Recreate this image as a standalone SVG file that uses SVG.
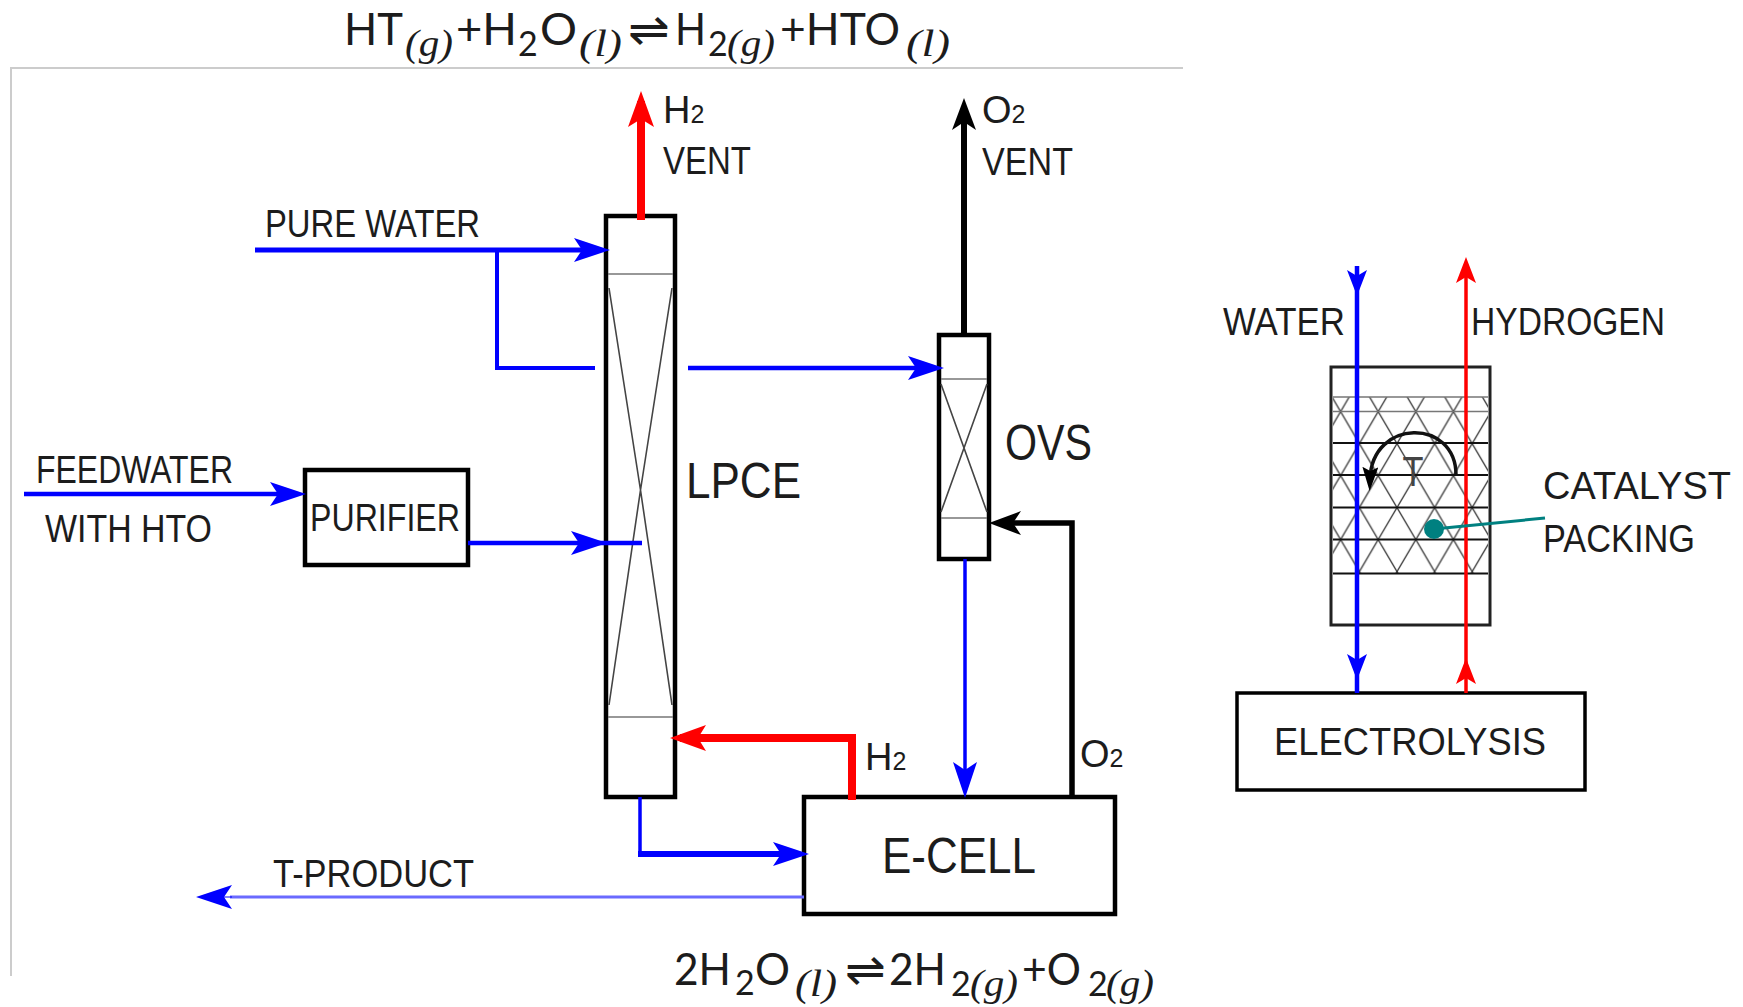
<svg xmlns="http://www.w3.org/2000/svg" width="1743" height="1007" viewBox="0 0 1743 1007">
<style>
.box{fill:none;stroke:#000;stroke-width:4.5}
.thin{fill:none;stroke:#777;stroke-width:1.5}
.x{fill:none;stroke:#444;stroke-width:1.6}
.rung{fill:none;stroke:#111;stroke-width:2}
.c{fill:none}
.b{stroke:#0000ff}.r{stroke:#ff0000}.k{stroke:#000}
text{font-family:"Liberation Sans Narrow","Liberation Sans",Arial,sans-serif;fill:#1c1c1c}
.lab{font-size:38px}
.big{font-size:50px}
.eq{font-family:Lato,"Open Sans",sans-serif;font-size:45px}
.eq .s{font-family:"Liberation Serif",serif;font-style:italic;font-size:37px}
.eq .n{font-family:Lato,"Open Sans",sans-serif;font-style:normal;font-size:34px}
.sub2{font-size:25px}
</style>
<defs>
<marker id="hb" markerUnits="userSpaceOnUse" markerWidth="36" markerHeight="24" refX="26" refY="12" orient="auto"><path d="M36,12 L0,0 L8,12 L0,24 Z" fill="#0000ff"/></marker>
<marker id="hbs" markerUnits="userSpaceOnUse" markerWidth="26" markerHeight="20" refX="16" refY="10" orient="auto"><path d="M26,10 L0,0 L6,10 L0,20 Z" fill="#0000ff"/></marker>
<marker id="hr" markerUnits="userSpaceOnUse" markerWidth="36" markerHeight="26" refX="26" refY="13" orient="auto"><path d="M36,13 L0,0 L8,13 L0,26 Z" fill="#ff0000"/></marker>
<marker id="hk" markerUnits="userSpaceOnUse" markerWidth="32" markerHeight="24" refX="22" refY="12" orient="auto"><path d="M32,12 L0,0 L8,12 L0,24 Z" fill="#000"/></marker>
<marker id="hrs" markerUnits="userSpaceOnUse" markerWidth="26" markerHeight="20" refX="16" refY="10" orient="auto"><path d="M26,10 L0,0 L6,10 L0,20 Z" fill="#ff0000"/></marker>
<marker id="hks" markerUnits="userSpaceOnUse" markerWidth="24" markerHeight="16" refX="12" refY="8" orient="auto"><path d="M24,8 L0,0 L4,8 L0,16 Z" fill="#000"/></marker>
<pattern id="lattice" patternUnits="userSpaceOnUse" x="1340.6" y="411.6" width="37.6" height="64">
<path d="M0,0 L37.6,64 M37.6,0 L0,64" stroke="#333" stroke-width="1.3" fill="none"/>
</pattern>
</defs>

<path id="frame" d="M11,976 V68 H1183" fill="none" stroke="#ccc" stroke-width="2"/>

<g id="eq-top">
<text class="eq" y="45"><tspan x="344" textLength="59" lengthAdjust="spacingAndGlyphs">HT</tspan><tspan class="s" x="405" dy="11" textLength="48" lengthAdjust="spacingAndGlyphs">(g)</tspan><tspan x="456" dy="-11" textLength="61" lengthAdjust="spacingAndGlyphs">+H</tspan><tspan class="n" x="518" dy="11">2</tspan><tspan x="540" dy="-11" textLength="37" lengthAdjust="spacingAndGlyphs">O</tspan><tspan class="s" x="579" dy="11" textLength="43" lengthAdjust="spacingAndGlyphs">(l)</tspan><tspan x="628" dy="-11" textLength="42" lengthAdjust="spacingAndGlyphs">⇌</tspan><tspan x="675" textLength="31" lengthAdjust="spacingAndGlyphs">H</tspan><tspan class="n" x="708" dy="11">2</tspan><tspan class="s" x="727" textLength="48" lengthAdjust="spacingAndGlyphs">(g)</tspan><tspan x="780" dy="-11" textLength="120" lengthAdjust="spacingAndGlyphs">+HTO</tspan><tspan class="s" x="906" dy="11" textLength="44" lengthAdjust="spacingAndGlyphs">(l)</tspan></text>
</g>
<g id="eq-bottom">
<text class="eq" y="985"><tspan x="674" textLength="57" lengthAdjust="spacingAndGlyphs">2H</tspan><tspan class="n" x="735" dy="10">2</tspan><tspan x="755" dy="-10" textLength="35" lengthAdjust="spacingAndGlyphs">O</tspan><tspan class="s" x="795" dy="11" textLength="42" lengthAdjust="spacingAndGlyphs">(l)</tspan><tspan x="845" dy="-11" textLength="41" lengthAdjust="spacingAndGlyphs">⇌</tspan><tspan x="889" textLength="57" lengthAdjust="spacingAndGlyphs">2H</tspan><tspan class="n" x="951" dy="11">2</tspan><tspan class="s" x="970" textLength="48" lengthAdjust="spacingAndGlyphs">(g)</tspan><tspan x="1022" dy="-11" textLength="59" lengthAdjust="spacingAndGlyphs">+O</tspan><tspan class="n" x="1088" dy="11">2</tspan><tspan class="s" x="1106" textLength="48" lengthAdjust="spacingAndGlyphs">(g)</tspan></text>
</g>

<g id="lpce">
<rect class="box" x="606" y="216" width="69" height="581"/>
<path class="thin" d="M608,274 H673 M608,717 H673"/>
<path class="x" d="M609,288 L640.5,490 L672,705 M672,288 L640.5,490 L609,705"/>
<text class="big" x="686" y="498" textLength="115" lengthAdjust="spacingAndGlyphs">LPCE</text>
</g>
<g id="ovs">
<rect class="box" x="939" y="335" width="50" height="224"/>
<path class="thin" d="M941,379 H987 M941,518 H987"/>
<path class="x" d="M941,384 L987,512 M987,384 L941,512"/>
<text class="big" x="1005" y="460" textLength="87" lengthAdjust="spacingAndGlyphs">OVS</text>
</g>
<g id="purifier">
<rect class="box" x="305" y="470" width="163" height="95"/>
<text class="lab" x="310" y="530.5" textLength="150" lengthAdjust="spacingAndGlyphs">PURIFIER</text>
</g>
<g id="ecell">
<rect class="box" x="804" y="797" width="311" height="117"/>
<text class="big" x="882" y="873" textLength="154" lengthAdjust="spacingAndGlyphs">E-CELL</text>
</g>
<g id="packing">
<rect x="1333" y="397" width="155" height="176" fill="url(#lattice)"/>
<path class="thin" d="M1333,397 H1488 M1333,411.6 H1488"/>
<path class="rung" d="M1333,443 H1488 M1333,475 H1488 M1333,507.4 H1488 M1333,539.5 H1488 M1333,573.5 H1488"/>
<rect x="1331" y="367" width="159" height="258" fill="none" stroke="#222" stroke-width="3"/>
<text x="1413" y="486" text-anchor="middle" font-size="42" style="fill:#444" textLength="21" lengthAdjust="spacingAndGlyphs">T</text>
<path d="M1456,475 C1456,418 1372,418 1370,479" fill="none" stroke="#111" stroke-width="3.5" marker-end="url(#hks)"/>
</g>
<g id="electrolysis">
<rect x="1237" y="693" width="348" height="97" fill="none" stroke="#000" stroke-width="3.5"/>
<text class="lab" x="1274" y="755" textLength="272" lengthAdjust="spacingAndGlyphs">ELECTROLYSIS</text>
</g>

<g id="connectors">
<path class="c r" stroke-width="8" d="M641,220 V101" marker-end="url(#hr)"/>
<path class="c k" stroke-width="6" d="M964,335 V108" marker-end="url(#hk)"/>
<path class="c b" stroke-width="5" d="M255,250 H600" marker-end="url(#hb)"/>
<path class="c b" stroke-width="4" d="M497,250 V368 H595"/>
<path class="c b" stroke-width="4.5" d="M688,368 H934" marker-end="url(#hb)"/>
<path class="c b" stroke-width="4.5" d="M24,494 H296" marker-end="url(#hb)"/>
<path class="c b" stroke-width="4.5" d="M468,543 H642"/>
<path class="c b" stroke-width="1" d="M570,543 H597" marker-end="url(#hb)"/>
<path class="c r" stroke-width="8" d="M852,800 V738 H680" marker-end="url(#hr)"/>
<path class="c b" stroke-width="3.5" d="M640,797 V854"/>
<path class="c b" stroke-width="6" d="M638,854 H799" marker-end="url(#hb)"/>
<path class="c b" stroke-width="3.5" d="M965,559 V788" marker-end="url(#hb)"/>
<path class="c k" stroke-width="5.5" d="M1072,797 V523 H999" marker-end="url(#hk)"/>
<path class="c" stroke="#6a6aff" stroke-width="3" d="M804,897 H230"/>
<path class="c b" stroke-width="1" d="M232,897 H206" marker-end="url(#hb)"/>
<path class="c b" stroke-width="4.5" d="M1357,266 V693"/>
<path class="c b" stroke-width="1" d="M1357,275 V286" marker-end="url(#hbs)"/>
<path class="c b" stroke-width="1" d="M1357,660 V670" marker-end="url(#hbs)"/>
<path class="c r" stroke-width="3.5" d="M1466,693 V267" marker-end="url(#hrs)"/>
<path class="c r" stroke-width="1" d="M1466,684 V668" marker-end="url(#hrs)"/>
<path class="c" stroke="#008080" stroke-width="3" d="M1434,529 L1545,518"/>
<circle cx="1434" cy="529" r="10" fill="#008080"/>
</g>

<g id="labels">
<text class="lab" x="663" y="123">H<tspan class="sub2">2</tspan></text>
<text class="lab" x="663" y="174" textLength="88" lengthAdjust="spacingAndGlyphs">VENT</text>
<text class="lab" x="982" y="123">O<tspan class="sub2">2</tspan></text>
<text class="lab" x="982" y="175" textLength="91" lengthAdjust="spacingAndGlyphs">VENT</text>
<text class="lab" x="265" y="237" textLength="215" lengthAdjust="spacingAndGlyphs">PURE WATER</text>
<text class="lab" x="36" y="482.5" textLength="197" lengthAdjust="spacingAndGlyphs">FEEDWATER</text>
<text class="lab" x="45" y="541.5" textLength="167" lengthAdjust="spacingAndGlyphs">WITH HTO</text>
<text class="lab" x="273" y="887" textLength="201" lengthAdjust="spacingAndGlyphs">T-PRODUCT</text>
<text class="lab" x="865" y="770">H<tspan class="sub2">2</tspan></text>
<text class="lab" x="1080" y="767">O<tspan class="sub2">2</tspan></text>
<text class="lab" x="1223" y="335" textLength="122" lengthAdjust="spacingAndGlyphs">WATER</text>
<text class="lab" x="1471" y="335" textLength="194" lengthAdjust="spacingAndGlyphs">HYDROGEN</text>
<text class="lab" x="1543" y="499" textLength="188" lengthAdjust="spacingAndGlyphs">CATALYST</text>
<text class="lab" x="1543" y="552" textLength="152" lengthAdjust="spacingAndGlyphs">PACKING</text>
</g>
</svg>
